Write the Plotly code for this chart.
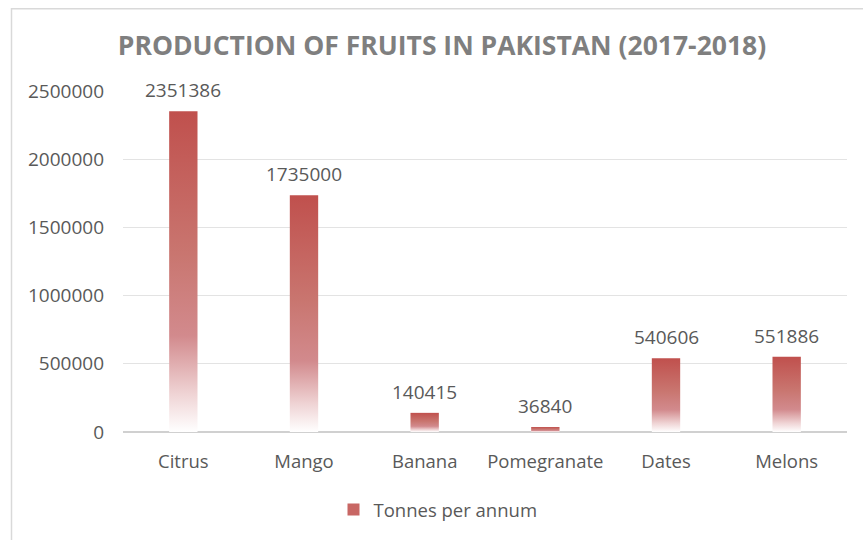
import plotly.graph_objects as go

categories = ["Citrus", "Mango", "Banana", "Pomegranate", "Dates", "Melons"]
tonnes = [2351386, 1735000, 140415, 36840, 540606, 551886]
y_ticks = [0, 500000, 1000000, 1500000, 2000000, 2500000]
series_name = "Tonnes per annum"
title_text = "PRODUCTION OF FRUITS IN PAKISTAN (2017-2018)"

FONT = "Open Sans"
BAR_W = 0.235
grad = [[0.0, "#FFFFFF"], [0.12, "#EFD3D4"], [0.3, "#D28A8D"], [0.55, "#C97670"], [1.0, "#C0504D"]]

fig = go.Figure()
for i, (c, v) in enumerate(zip(categories, tonnes)):
    x0, x1 = i - BAR_W / 2, i + BAR_W / 2
    fig.add_trace(go.Scatter(
        x=[x0, x1, x1, x0, x0], y=[0, 0, v, v, 0],
        mode="lines", fill="toself", line=dict(width=0),
        fillgradient=dict(type="vertical", colorscale=grad),
        showlegend=False, hoverinfo="skip"))

# legend entry
fig.add_trace(go.Bar(x=[0], y=[0], name=series_name, marker=dict(color="#C86764", line=dict(width=0)),
                     showlegend=True, hoverinfo="skip"))

for i, v in enumerate(tonnes):
    fig.add_annotation(x=i, y=v, text=str(v), showarrow=False, yanchor="bottom", yshift=6,
                       font=dict(family=FONT, size=19, color="#595959"))

L, R, T, B = 123, 16, 91, 107
W, H = 863, 540
pw, ph = W - L - R, H - T - B
fx = lambda px: (px - L) / pw
fy = lambda py: (H - B - py) / ph
fig.add_shape(type="rect", xref="paper", yref="paper", x0=fx(11.5), x1=fx(880), y0=fy(560), y1=fy(8.5),
              line=dict(color="#D9D9D9", width=1.5), layer="below")

fig.update_layout(
    width=W, height=H, margin=dict(l=L, r=R, t=T, b=B),
    paper_bgcolor="white", plot_bgcolor="white",
    title=dict(text="<b>" + title_text + "</b>", xref="container", x=442 / W, xanchor="center",
               y=1 - 46 / H, yanchor="middle",
               font=dict(family=FONT, size=26.5, color="#7F7F7F")),
    xaxis=dict(range=[-0.5, 5.5], tickvals=list(range(len(categories))), ticktext=categories,
               showgrid=False, zeroline=False, showline=False, ticks="",
               tickfont=dict(family=FONT, size=18.5, color="#595959"), ticklabelstandoff=16),
    yaxis=dict(range=[0, 2500000], tickvals=y_ticks, ticktext=[str(t) for t in y_ticks],
               showgrid=True, gridcolor="#E3E3E3", gridwidth=1.2, zeroline=True, zerolinecolor="#D0D0D0",
               zerolinewidth=1.5, showline=False, ticks="",
               tickfont=dict(family=FONT, size=19, color="#595959"), ticklabelstandoff=18),
    legend=dict(orientation="h", x=0.5 - 47 / pw, xanchor="center", y=1 - (510 - T) / ph, yanchor="middle",
                font=dict(family=FONT, size=18.5, color="#595959")),
    showlegend=True,
)

fig.write_html("out.html", config={"displayModeBar": False},
               post_script="document.body.style.margin='0';")
